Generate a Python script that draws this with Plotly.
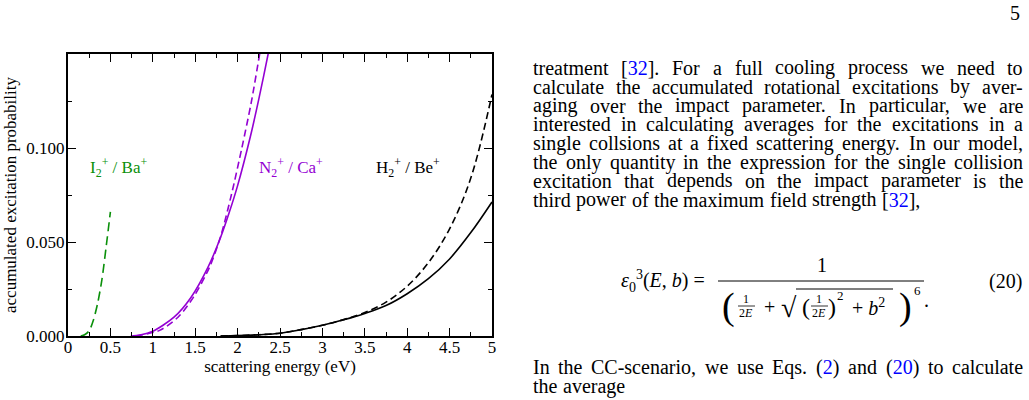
import plotly.graph_objects as go

# ---------------- data ----------------
green_x = [0.15, 0.20, 0.25, 0.30, 0.35, 0.40, 0.45, 0.50]
green_y = [0.0, 0.0008, 0.0028, 0.0085, 0.0175, 0.0300, 0.0475, 0.0660]

purple_solid_x = [0.74, 0.85, 1.00, 1.25, 1.45, 1.65, 1.80, 1.90, 2.00, 2.15, 2.25, 2.36, 2.42]
purple_solid_y = [0.0, 0.0005, 0.0025, 0.0100, 0.0205, 0.0365, 0.0525, 0.0655, 0.0800, 0.1060, 0.1260, 0.1500, 0.1640]

purple_dash_x = [0.80, 1.08, 1.30, 1.48, 1.67, 1.80, 1.93, 2.05, 2.16, 2.26, 2.31]
purple_dash_y = [0.0, 0.0030, 0.0101, 0.0207, 0.0367, 0.0530, 0.0757, 0.1000, 0.1240, 0.1500, 0.1640]

black_solid_x = [1.80, 2.00, 2.25, 2.50, 2.75, 3.00, 3.25, 3.50, 3.75, 4.00, 4.25, 4.50, 4.75, 5.00]
black_solid_y = [0.0, 0.0002, 0.0007, 0.0015, 0.0034, 0.0057, 0.0086, 0.0120, 0.0162, 0.0225, 0.0305, 0.0410, 0.0550, 0.0713]

black_dash_x = [1.80, 2.00, 2.25, 2.50, 2.75, 3.00, 3.25, 3.50, 3.75, 4.00, 4.25, 4.50, 4.75, 5.00]
black_dash_y = [0.0, 0.0002, 0.0007, 0.0015, 0.0034, 0.0057, 0.0087, 0.0125, 0.0180, 0.0265, 0.0390, 0.0570, 0.0840, 0.1285]

x_tick_vals = [0, 0.5, 1, 1.5, 2, 2.5, 3, 3.5, 4, 4.5, 5]
x_tick_text = ["0", "0.5", "1", "1.5", "2", "2.5", "3", "3.5", "4", "4.5", "5"]
y_tick_vals = [0, 0.05, 0.1]
y_tick_text = ["0.000", "0.050", "0.100"]

series_labels = ["I<sub>2</sub><sup>+</sup> / Ba<sup>+</sup>",
                 "N<sub>2</sub><sup>+</sup> / Ca<sup>+</sup>",
                 "H<sub>2</sub><sup>+</sup> / Be<sup>+</sup>"]

BLUE = "#0000ff"
body_lines = [
    "treatment [32].  For a full cooling process we need to",
    "calculate the accumulated rotational excitations by aver-",
    "aging over the impact parameter.  In particular, we are",
    "interested in calculating averages for the excitations in a",
    "single collsions at a fixed scattering energy. In our model,",
    "the only quantity in the expression for the single collision",
    "excitation that depends on the impact parameter is the",
    "third power of the maximum field strength [32],",
]
body_justified = [True, True, True, True, True, True, True, False]
after_lines = [
    "In the CC-scenario, we use Eqs. (2) and (20) to calculate",
    "the average",
]
after_justified = [True, False]
link_words = {"[32].": "[<span style='color:%s'>32</span>]." % BLUE,
              "[32],": "[<span style='color:%s'>32</span>]," % BLUE,
              "(2)": "(<span style='color:%s'>2</span>)" % BLUE,
              "(20)": "(<span style='color:%s'>20</span>)" % BLUE}

# ---------------- figure geometry ----------------
W, H = 1029, 400
L, R, T, B = 68, 537, 54, 64
PW, PH = W - L - R, H - T - B

def px(x):
    return (x - L) / PW

def py(y):
    return (H - B - y) / PH

GREEN = "#0a900a"
VIOLET = "#9400d3"
SERIF = "Liberation Serif"

fig = go.Figure()
LW = 1.6
fig.add_trace(go.Scatter(x=green_x, y=green_y, mode="lines", line=dict(color=GREEN, width=LW, dash="9px,5px", shape="spline", smoothing=0.8), showlegend=False))
fig.add_trace(go.Scatter(x=purple_solid_x, y=purple_solid_y, mode="lines", line=dict(color=VIOLET, width=LW, shape="spline", smoothing=0.8), showlegend=False))
fig.add_trace(go.Scatter(x=purple_dash_x, y=purple_dash_y, mode="lines", line=dict(color=VIOLET, width=LW, dash="7px,4px", shape="spline", smoothing=0.8), showlegend=False))
fig.add_trace(go.Scatter(x=black_solid_x, y=black_solid_y, mode="lines", line=dict(color="black", width=LW, shape="spline", smoothing=1.0), showlegend=False))
fig.add_trace(go.Scatter(x=black_dash_x, y=black_dash_y, mode="lines", line=dict(color="black", width=LW, dash="7px,4px", shape="spline", smoothing=1.0), showlegend=False))

axis_common = dict(showline=True, linewidth=2, linecolor="black", mirror="allticks",
                   ticks="inside", ticklen=8, tickwidth=1.3, tickcolor="black",
                   showgrid=False, zeroline=False,
                   tickfont=dict(family=SERIF, size=17, color="black"))
fig.update_xaxes(range=[0, 5], tickmode="array", tickvals=x_tick_vals, ticktext=x_tick_text,
                 minor=dict(dtick=0.25, tick0=0, ticks="inside", ticklen=4, tickwidth=1.3, tickcolor="black"),
                 ticklabelstandoff=-5,
                 title=dict(text="scattering energy (eV)", font=dict(family=SERIF, size=17, color="black"), standoff=0),
                 **axis_common)
fig.update_yaxes(range=[0, 0.15], tickmode="array", tickvals=y_tick_vals, ticktext=y_tick_text,
                 minor=dict(dtick=0.025, tick0=0, ticks="inside", ticklen=4, tickwidth=1.3, tickcolor="black"),
                 ticklabelstandoff=-2,
                 title=dict(text="accumulated excitation probability", font=dict(family=SERIF, size=17, color="black"), standoff=5),
                 **axis_common)

ann = []
# series labels
for text, col, xc in zip(series_labels, [GREEN, VIOLET, "black"], [118, 291, 408]):
    ann.append(dict(x=px(xc), y=py(167), xref="paper", yref="paper", text=text, showarrow=False,
                    font=dict(family=SERIF, size=17, color=col), xanchor="center", yanchor="middle"))

# page number
ann.append(dict(x=px(1015), y=py(13), xref="paper", yref="paper", text="5", showarrow=False,
                font=dict(family=SERIF, size=20, color="black"), xanchor="center", yanchor="middle"))

# ---------------- body text (justified with Times metrics) ----------------
TW = {' ': 250, '!': 333, '(': 333, ')': 333, ',': 250, '-': 333, '.': 250, ':': 278, '[': 333, ']': 333,
      'A': 722, 'B': 667, 'C': 667, 'D': 722, 'E': 611, 'F': 556, 'G': 722, 'H': 722, 'I': 333, 'J': 389,
      'K': 722, 'L': 611, 'M': 889, 'N': 722, 'O': 722, 'P': 556, 'Q': 722, 'R': 667, 'S': 556, 'T': 611,
      'U': 722, 'V': 722, 'W': 944, 'X': 722, 'Y': 722, 'Z': 611,
      'a': 444, 'b': 500, 'c': 444, 'd': 500, 'e': 444, 'f': 333, 'g': 500, 'h': 500, 'i': 278, 'j': 278,
      'k': 500, 'l': 278, 'm': 778, 'n': 500, 'o': 500, 'p': 500, 'q': 500, 'r': 333, 's': 389, 't': 278,
      'u': 500, 'v': 500, 'w': 722, 'x': 500, 'y': 500, 'z': 444}
FS = 20
X0, X1 = 532, 1022

def wwidth(s):
    return sum(TW.get(c, 500) for c in s) * FS / 1000.0

def add_line(line, yc, justify):
    words = line.split()
    widths = [wwidth(w) for w in words]
    if justify and len(words) > 1:
        gap = (X1 - X0 - sum(widths)) / (len(words) - 1)
    else:
        gap = 0.27 * FS
    x = X0
    for w, wd in zip(words, widths):
        ann.append(dict(x=px(x), y=py(yc), xref="paper", yref="paper", text=link_words.get(w, w),
                        showarrow=False, font=dict(family=SERIF, size=FS, color="black"),
                        xanchor="left", yanchor="middle", borderpad=0))
        x += wd + gap

for i, (line, j) in enumerate(zip(body_lines, body_justified)):
    add_line(line, 68 + i * 18.8, j)
for i, (line, j) in enumerate(zip(after_lines, after_justified)):
    add_line(line, 367 + i * 19, j)

# ---------------- equation (20) ----------------
def eq(text, x, y, size=FS, anchor="center"):
    ann.append(dict(x=px(x), y=py(y), xref="paper", yref="paper", text=text, showarrow=False,
                    font=dict(family=SERIF, size=size, color="black"), xanchor=anchor, yanchor="middle"))

eq("<i>ε</i><sub>0</sub><sup>3</sup>(<i>E</i>, <i>b</i>) =", 707, 281, anchor="right")
eq("1", 822, 265)
eq("(", 728, 306, size=38)
eq("1", 746, 299, size=12)
eq("2<i>E</i>", 746, 313, size=12)
eq("+", 769, 307)
eq("√", 789, 307, size=28)
eq("(", 806, 307, size=24)
eq("1", 819, 299, size=12)
eq("2<i>E</i>", 819, 313, size=12)
eq(")", 832, 307, size=24)
eq("2", 840, 295, size=13)
eq("+ <i>b</i><sup>2</sup>", 868, 307)
eq(")", 905, 306, size=38)
eq("6", 917, 290, size=13)
eq(".", 926, 300)
eq("(20)", 1005, 281)

shapes = [
    dict(type="line", xref="paper", yref="paper", x0=px(718), x1=px(924), y0=py(281), y1=py(281), line=dict(color="black", width=1)),
    dict(type="line", xref="paper", yref="paper", x0=px(738), x1=px(755), y0=py(306), y1=py(306), line=dict(color="black", width=0.8)),
    dict(type="line", xref="paper", yref="paper", x0=px(811), x1=px(828), y0=py(306), y1=py(306), line=dict(color="black", width=0.8)),
    dict(type="line", xref="paper", yref="paper", x0=px(796), x1=px(893), y0=py(289), y1=py(289), line=dict(color="black", width=1)),
]

fig.update_layout(width=W, height=H, margin=dict(l=L, r=R, t=T, b=B, autoexpand=False),
                  paper_bgcolor="white", plot_bgcolor="white", annotations=ann, shapes=shapes,
                  showlegend=False)
fig.write_html("out.html")
